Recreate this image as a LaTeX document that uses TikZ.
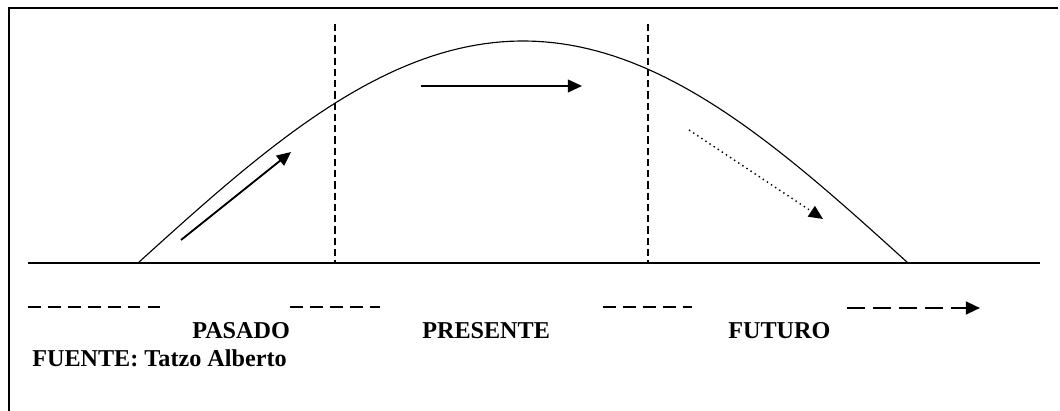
\documentclass[tikz,border=0pt]{standalone}
\usepackage{fontspec}
\setmainfont{Liberation Serif}
\usepackage{tikz}
\usetikzlibrary{arrows.meta, positioning, calc}
\tikzset{
  frame/.style={line width=1.4pt},
  axis/.style={line width=1.1pt},
  bell/.style={line width=0.8pt},
  divider/.style={line width=0.8pt, dash pattern=on 5pt off 3pt},
  trend/.style={-{Triangle[length=10pt, width=9pt]}, line width=1.3pt},
  guess/.style={-{Triangle[length=10pt, width=9pt]}, line width=1pt, dash pattern=on 1pt off 2.5pt},
  tick/.style={line width=1.2pt, dash pattern=on 9pt off 5.2pt},
  ahead/.style={-{Triangle[length=10pt, width=9pt]}, line width=1.7pt, dash pattern=on 12.5pt off 6pt},
  label/.style={font=\fontsize{17.2}{19}\selectfont\bfseries, anchor=base west, inner sep=0pt}
}

\begin{document}
\begin{tikzpicture}[x=0.025cm, y=-0.025cm]
        % Page size
        \useasboundingbox (0,0) rectangle (1060,411);

        % Frame (open to the right and below)
        \draw[frame] (1058,8) -- (9,8) -- (9,411);

        % Time axis and bell curve
        \coordinate (axisL) at (28,263);
        \coordinate (axisR) at (1040,263);
        \draw[axis] (axisL) -- (axisR);
        \draw[bell] plot[domain=138:908, samples=90] (\x, {263-222*sin(0.233766*(\x-138))});

        % Dividers
        \coordinate (divA) at (335,24);
        \coordinate (divB) at (648,24);
        \draw[divider] (divA) -- (divA |- axisL);
        \draw[divider] (divB) -- (divB |- axisL);

        % Trend arrows
        \coordinate (upS) at (181,240);
        \coordinate (upE) at (291,152);
        \coordinate (flatS) at (421,86);
        \coordinate (flatE) at (582,86);
        \coordinate (downS) at (689,130);
        \coordinate (downE) at (823,219);
        \draw[trend] (upS) -- (upE);
        \draw[trend] (flatS) -- (flatE);
        \draw[guess] (downS) -- (downE);

        % Time line below
        \coordinate (t1) at (28,307);
        \coordinate (t2) at (162,307);
        \coordinate (t3) at (290,307);
        \coordinate (t4) at (380,307);
        \coordinate (t5) at (603,307);
        \coordinate (t6) at (692,307);
        \coordinate (t7) at (847,308);
        \coordinate (t8) at (980,308);
        \draw[tick] (t1) -- (t2);
        \draw[tick] (t3) -- (t4);
        \draw[tick] (t5) -- (t6);
        \draw[ahead] (t7) -- (t8);

        % Labels
        \node[label] (pasado)   at (192,339) {PASADO};
        \node[label] (presente) at (422,339) {PRESENTE};
        \node[label] (futuro)   at (728,339) {FUTURO};
        \node[label] (fuente)   at (32,367)  {FUENTE: Tatzo Alberto};
    \end{tikzpicture}
\end{document}
